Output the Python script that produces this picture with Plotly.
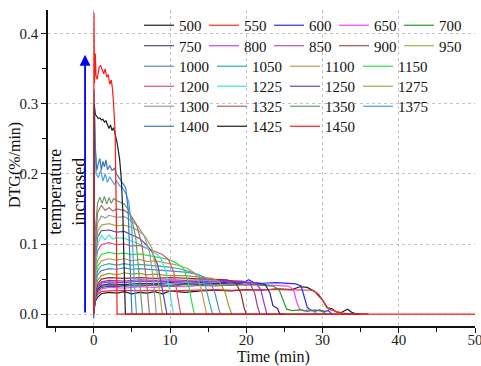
import plotly.graph_objects as go

# ---------------- data ----------------
temps = [500, 550, 600, 650, 700, 750, 800, 850, 900, 950,
         1000, 1050, 1100, 1150, 1200, 1225, 1250, 1275, 1300, 1325,
         1350, 1375, 1400, 1425, 1450]

t_500 = [0, 0.2, 0.5, 1.0, 2, 3, 4, 5, 6, 7, 8, 9, 10, 12, 14, 16, 18, 20, 22, 24, 26, 27, 28, 29, 30, 30.6, 31.2, 31.8, 32.4, 33.3, 33.9, 34.5, 36]
y_500 = [0.004, 0.018, 0.024, 0.029, 0.031, 0.030, 0.032, 0.029, 0.031, 0.030, 0.032, 0.029, 0.033, 0.031, 0.033, 0.034, 0.033, 0.035, 0.034, 0.036, 0.035, 0.039, 0.038, 0.032, 0.02, 0.009, 0.008, 0.003, 0.002, 0.007, 0.002, 0.0, 0.0]

t_550 = [0, 0.2, 0.5, 1.0, 2, 4, 6, 8, 10, 12, 14, 16, 18, 20, 22, 24, 26, 28, 28.8, 29.5, 30.2, 30.8, 31.5, 32.3, 33.5, 36]
y_550 = [0.003, 0.02, 0.028, 0.032, 0.033, 0.034, 0.033, 0.034, 0.033, 0.034, 0.034, 0.035, 0.034, 0.035, 0.035, 0.035, 0.035, 0.035, 0.034, 0.028, 0.016, 0.007, 0.005, 0.002, 0.0, 0.0]

t_600 = [0, 0.2, 0.5, 1.0, 2, 3, 4, 6, 8, 10, 12, 14, 16, 18, 19.5, 20.3, 21, 22, 24, 25.5, 26.5, 27.2, 27.6, 28.0, 28.4, 29, 29.6, 30.2, 30.8, 31.2]
y_600 = [0.002, 0.022, 0.032, 0.038, 0.040, 0.039, 0.041, 0.040, 0.042, 0.041, 0.043, 0.042, 0.044, 0.043, 0.044, 0.049, 0.045, 0.044, 0.045, 0.044, 0.043, 0.04, 0.025, 0.01, 0.006, 0.004, 0.006, 0.004, 0.005, 0.0]

t_650 = [0, 0.2, 0.5, 1.0, 2, 4, 6, 8, 10, 12, 14, 16, 18, 20, 22, 24, 25.5, 26.2, 26.6, 27.0, 27.6, 28.2, 28.8, 29.3]
y_650 = [0.001, 0.02, 0.03, 0.036, 0.038, 0.037, 0.039, 0.038, 0.040, 0.039, 0.041, 0.040, 0.042, 0.041, 0.042, 0.041, 0.040, 0.035, 0.018, 0.007, 0.005, 0.006, 0.004, 0.0]

t_700 = [0, 0.2, 0.5, 1.0, 2, 4, 6, 8, 10, 12, 14, 16, 18, 20, 22, 23.5, 24.3, 24.8, 25.3, 26, 27, 28, 29, 30, 30.5]
y_700 = [0.001, 0.022, 0.032, 0.039, 0.041, 0.040, 0.042, 0.041, 0.040, 0.042, 0.041, 0.042, 0.041, 0.043, 0.041, 0.040, 0.035, 0.02, 0.007, 0.005, 0.006, 0.004, 0.006, 0.004, 0.0]

t_750 = [0, 0.2, 0.5, 1.0, 2, 4, 6, 8, 10, 12, 14, 16, 18, 20, 21.5, 22.5, 23.1, 23.5, 23.8, 24.1, 24.4, 25]
y_750 = [0.001, 0.024, 0.035, 0.041, 0.043, 0.042, 0.044, 0.043, 0.045, 0.044, 0.045, 0.044, 0.046, 0.045, 0.044, 0.042, 0.03, 0.012, 0.01, 0.008, 0.0, 0.0]

t_800 = [0, 0.2, 0.5, 1.0, 2, 4, 6, 8, 10, 12, 14, 16, 18, 20, 21.2, 21.9, 22.3, 22.7, 23]
y_800 = [0.001, 0.026, 0.037, 0.044, 0.046, 0.045, 0.047, 0.046, 0.047, 0.046, 0.047, 0.046, 0.047, 0.046, 0.045, 0.035, 0.015, 0.0, 0.0]

t_850 = [0, 0.2, 0.5, 1.0, 2, 4, 6, 8, 10, 12, 14, 16, 18, 19.5, 20.5, 21.1, 21.5, 21.8]
y_850 = [0.001, 0.028, 0.04, 0.046, 0.048, 0.047, 0.049, 0.048, 0.049, 0.048, 0.049, 0.048, 0.048, 0.047, 0.044, 0.03, 0.01, 0.0]

t_900 = [0, 0.2, 0.5, 1.0, 2, 4, 6, 8, 10, 12, 14, 16, 17.5, 18.6, 19.3, 19.7, 20.0]
y_900 = [0.001, 0.03, 0.043, 0.05, 0.052, 0.051, 0.052, 0.051, 0.052, 0.051, 0.051, 0.05, 0.049, 0.045, 0.03, 0.01, 0.0]

t_950 = [0, 0.2, 0.5, 1.0, 2, 3, 4, 5, 6, 7, 8, 10, 12, 14, 15.5, 16.5, 17.2, 17.7, 18.1]
y_950 = [0.001, 0.033, 0.048, 0.055, 0.058, 0.056, 0.059, 0.057, 0.058, 0.056, 0.057, 0.055, 0.055, 0.053, 0.051, 0.046, 0.032, 0.012, 0.0]

t_1000 = [0, 0.2, 0.5, 1.0, 2, 3, 4, 5, 6, 8, 10, 12, 13.5, 14.5, 15.3, 15.9, 16.3, 16.6]
y_1000 = [0.0, 0.04, 0.056, 0.062, 0.065, 0.064, 0.066, 0.064, 0.065, 0.063, 0.062, 0.06, 0.057, 0.053, 0.045, 0.03, 0.012, 0.0]

t_1050 = [0, 0.2, 0.5, 1.0, 2, 3, 4, 5, 6, 8, 10, 11.5, 12.8, 13.8, 14.6, 15.1, 15.6]
y_1050 = [0.0, 0.045, 0.062, 0.069, 0.072, 0.07, 0.072, 0.07, 0.071, 0.069, 0.067, 0.064, 0.06, 0.055, 0.042, 0.02, 0.0]

t_1100 = [0, 0.2, 0.5, 1.0, 2, 3, 4, 5, 6, 7, 8, 9.5, 11, 12.3, 13.3, 14.0, 14.4, 14.8]
y_1100 = [0.0, 0.05, 0.068, 0.076, 0.079, 0.077, 0.079, 0.076, 0.078, 0.075, 0.076, 0.073, 0.07, 0.065, 0.058, 0.04, 0.02, 0.0]

t_1150 = [0, 0.2, 0.5, 1.0, 2, 3, 4, 5, 6, 7, 8, 9, 10, 11, 11.8, 12.4, 12.8, 13.2]
y_1150 = [0.0, 0.055, 0.076, 0.085, 0.088, 0.086, 0.087, 0.085, 0.086, 0.084, 0.083, 0.08, 0.077, 0.072, 0.065, 0.045, 0.02, 0.0]

t_1200 = [0, 0.2, 0.5, 1.0, 2, 3, 4, 5, 6, 7, 8, 9, 9.8, 10.5, 11.0, 11.4]
y_1200 = [0.0, 0.065, 0.09, 0.099, 0.102, 0.099, 0.1, 0.097, 0.098, 0.094, 0.09, 0.085, 0.078, 0.06, 0.025, 0.0]

t_1225 = [0, 0.2, 0.5, 1.0, 1.5, 2, 2.5, 3, 4, 5, 6, 7, 8, 8.8, 9.5, 10.0, 10.45]
y_1225 = [0.0, 0.07, 0.1, 0.112, 0.106, 0.113, 0.107, 0.109, 0.108, 0.104, 0.1, 0.094, 0.088, 0.08, 0.06, 0.03, 0.0]

t_1250 = [0, 0.2, 0.5, 1.0, 2, 3, 4, 5, 6, 6.8, 7.6, 8.4, 9.0, 9.6]
y_1250 = [0.0, 0.08, 0.11, 0.119, 0.12, 0.117, 0.118, 0.113, 0.108, 0.1, 0.09, 0.07, 0.035, 0.0]

t_1275 = [0, 0.2, 0.5, 1.0, 2, 3, 4, 5, 6, 6.8, 7.6, 8.3, 9.0]
y_1275 = [0.0, 0.085, 0.118, 0.127, 0.129, 0.126, 0.127, 0.124, 0.118, 0.11, 0.095, 0.06, 0.0]

t_1300 = [0, 0.2, 0.5, 1.0, 1.5, 2, 3, 4, 5, 5.8, 6.6, 7.3, 7.8, 8.2]
y_1300 = [0.0, 0.09, 0.13, 0.14, 0.137, 0.141, 0.138, 0.139, 0.133, 0.125, 0.112, 0.09, 0.05, 0.0]

t_1325 = [0, 0.2, 0.5, 1.0, 1.5, 2, 2.5, 3, 4, 4.8, 5.6, 6.3, 6.9, 7.3]
y_1325 = [0.0, 0.1, 0.145, 0.155, 0.148, 0.152, 0.147, 0.15, 0.148, 0.142, 0.128, 0.1, 0.05, 0.0]

t_1350 = [0, 0.2, 0.5, 0.8, 1.1, 1.4, 1.7, 2.0, 2.3, 2.6, 3.0, 3.5, 4.0, 4.5, 5.0, 5.5, 6.0, 6.4]
y_1350 = [0.0, 0.12, 0.158, 0.167, 0.158, 0.168, 0.157, 0.166, 0.158, 0.165, 0.162, 0.16, 0.157, 0.15, 0.135, 0.11, 0.05, 0.0]

t_1375 = [0, 0.1, 0.3, 0.6, 0.9, 1.2, 1.5, 1.8, 2.1, 2.4, 2.7, 3.0, 3.4, 3.8, 4.2, 4.6, 5.0, 5.3, 5.6]
y_1375 = [-0.004, 0.28, 0.2, 0.195, 0.205, 0.19, 0.2, 0.188, 0.196, 0.19, 0.185, 0.19, 0.183, 0.18, 0.172, 0.16, 0.12, 0.05, 0.0]

t_1400 = [0, 0.05, 0.2, 0.4, 0.6, 0.8, 1.0, 1.2, 1.4, 1.6, 1.8, 2.1, 2.4, 2.7, 3.0, 3.3, 3.6, 3.9, 4.2, 4.5, 4.8, 5.0]
y_1400 = [-0.006, 0.32, 0.24, 0.205, 0.215, 0.222, 0.205, 0.218, 0.21, 0.22, 0.206, 0.212, 0.205, 0.208, 0.2, 0.195, 0.19, 0.186, 0.18, 0.15, 0.06, 0.0]

t_1425 = [0, 0.05, 0.2, 0.4, 0.6, 0.8, 1.0, 1.2, 1.4, 1.6, 1.8, 2.0, 2.2, 2.4, 2.6, 2.8, 3.0, 3.2, 3.4, 3.6, 3.8, 4.0, 4.15, 35]
y_1425 = [0.0, 0.30, 0.285, 0.281, 0.279, 0.28, 0.277, 0.278, 0.274, 0.276, 0.27, 0.265, 0.27, 0.262, 0.266, 0.258, 0.248, 0.235, 0.22, 0.195, 0.15, 0.06, 0.0, 0.0]

t_1450 = [0, 0.03, 0.1, 0.2, 0.3, 0.45, 0.7, 0.9, 1.1, 1.3, 1.5, 1.7, 1.9, 2.1, 2.3, 2.45, 2.6, 2.8, 2.95, 3.06, 50]
y_1450 = [0.0, 0.43, 0.33, 0.372, 0.34, 0.335, 0.352, 0.355, 0.348, 0.343, 0.35, 0.338, 0.342, 0.328, 0.334, 0.322, 0.3, 0.26, 0.15, 0.0, 0.0]

series_t = [t_500, t_550, t_600, t_650, t_700, t_750, t_800, t_850, t_900, t_950,
            t_1000, t_1050, t_1100, t_1150, t_1200, t_1225, t_1250, t_1275, t_1300, t_1325,
            t_1350, t_1375, t_1400, t_1425, t_1450]
series_y = [y_500, y_550, y_600, y_650, y_700, y_750, y_800, y_850, y_900, y_950,
            y_1000, y_1050, y_1100, y_1150, y_1200, y_1225, y_1250, y_1275, y_1300, y_1325,
            y_1350, y_1375, y_1400, y_1425, y_1450]

# legend rows (as in the reference)
legend_rows = [[500, 550, 600, 650, 700],
               [750, 800, 850, 900, 950],
               [1000, 1050, 1100, 1150],
               [1200, 1225, 1250, 1275],
               [1300, 1325, 1350, 1375],
               [1400, 1425, 1450]]

x_ticks = [0, 10, 20, 30, 40, 50]
y_ticks = [0.0, 0.1, 0.2, 0.3, 0.4]

# ---------------- styles ----------------
colors = ['#1e1e1e', '#ff2a2a', '#2a2aff', '#ff40ff', '#2a9a2a',
          '#2a2a8a', '#a52aff', '#9a3a9a', '#9a2a2a', '#9a9a2a',
          '#5a86c0', '#2ab0b0', '#c09a50', '#2ae04a', '#e0507a',
          '#40e0d8', '#5050b0', '#a8a850', '#9a9a9a', '#a86a6a',
          '#6a9a6a', '#4aa0e0', '#3a78b8', '#1e1e1e', '#ff1a1a']

FONT = "'Liberation Serif', 'Times New Roman', Times, serif"
W, H = 481, 366
ML, MR, MT, MB = 48, 6, 10, 40
PW, PH = W - ML - MR, H - MT - MB

def px_to_paper_x(px):
    return (px - ML) / PW

def px_to_paper_y(py):
    return (H - MB - py) / PH

row_of = {}
for i, row in enumerate(legend_rows):
    for T in row:
        row_of[T] = i

fig = go.Figure()
for T, tx, ty, c in zip(temps, series_t, series_y, colors):
    r = row_of[T]
    fig.add_trace(go.Scatter(
        x=tx, y=ty, mode="lines", name=str(T),
        line=dict(color=c, width=1.2),
        legend="legend" if r == 0 else f"legend{r + 1}",
        hoverinfo="skip",
    ))

legend_layout = {}
row_centers_px = [25.5, 46.0, 66.5, 86.5, 106.5, 126.5]
for i, cy in enumerate(row_centers_px):
    key = "legend" if i == 0 else f"legend{i + 1}"
    legend_layout[key] = dict(
        orientation="h", x=px_to_paper_x(139), xanchor="left",
        y=px_to_paper_y(cy), yanchor="middle",
        bgcolor="rgba(0,0,0,0)", borderwidth=0,
        font=dict(family=FONT, size=15, color="#111"),
        itemwidth=30, tracegroupgap=0,
        entrywidthmode="pixels", entrywidth=20 if i < 2 else 28,
    )

axis_common = dict(
    showline=True, linecolor="#111", linewidth=1.5, mirror=False,
    ticks="outside", ticklen=5, tickwidth=1.2, tickcolor="#111",
    showgrid=True, gridcolor="#c4c4c4", griddash="dot", gridwidth=1,
    zeroline=False, automargin=False, ticklabeloverflow="allow",
    tickfont=dict(family=FONT, size=15, color="#1a1a1a"),
)

fig.update_layout(
    template="none",
    font=dict(family=FONT, size=15, color="#111"),
    width=W, height=H,
    margin=dict(l=ML, r=MR, t=MT, b=MB, pad=0),
    paper_bgcolor="white", plot_bgcolor="white",
    showlegend=True,
    xaxis=dict(range=[-6, 50], tickvals=x_ticks, ticktext=[str(v) for v in x_ticks],
               ticklabelstandoff=-6,
               minor=dict(dtick=5, tick0=0, ticks="outside", ticklen=4, tickcolor="#111", showgrid=False),
               **axis_common),
    yaxis=dict(range=[-0.017, 0.434], tickvals=y_ticks, ticktext=[f"{v:.1f}" for v in y_ticks],
               minor=dict(dtick=0.05, tick0=0, ticks="outside", ticklen=4, tickcolor="#111", showgrid=False),
               **axis_common),
    **legend_layout,
)

# arrow "temperature increased"
fig.add_annotation(x=-1.14, y=0.37, ax=-1.14, ay=0.0, xref="x", yref="y", axref="x", ayref="y",
                   text="", showarrow=True, arrowhead=2, arrowsize=1.2, arrowwidth=1.8,
                   arrowcolor="#0000ff", standoff=0, startstandoff=0)
fig.add_annotation(x=-3.57, y=0.174, xref="x", yref="y", text="temperature<br>increased",
                   xanchor="center", yanchor="middle",
                   textangle=-90, showarrow=False, font=dict(family=FONT, size=18, color="#111"))

# axis titles
fig.add_annotation(x=px_to_paper_x(273), y=px_to_paper_y(357), xref="paper", yref="paper",
                   xanchor="center", yanchor="middle",
                   text="Time (min)", showarrow=False, font=dict(family=FONT, size=16, color="#111"))
fig.add_annotation(x=px_to_paper_x(15), y=px_to_paper_y(165), xref="paper", yref="paper",
                   xanchor="center", yanchor="middle",
                   text="DTG(%/min)", textangle=-90, showarrow=False,
                   font=dict(family=FONT, size=16, color="#111"))

fig.write_html("out.html", config={"displayModeBar": False},
               post_script="document.body.style.margin='0px';")
